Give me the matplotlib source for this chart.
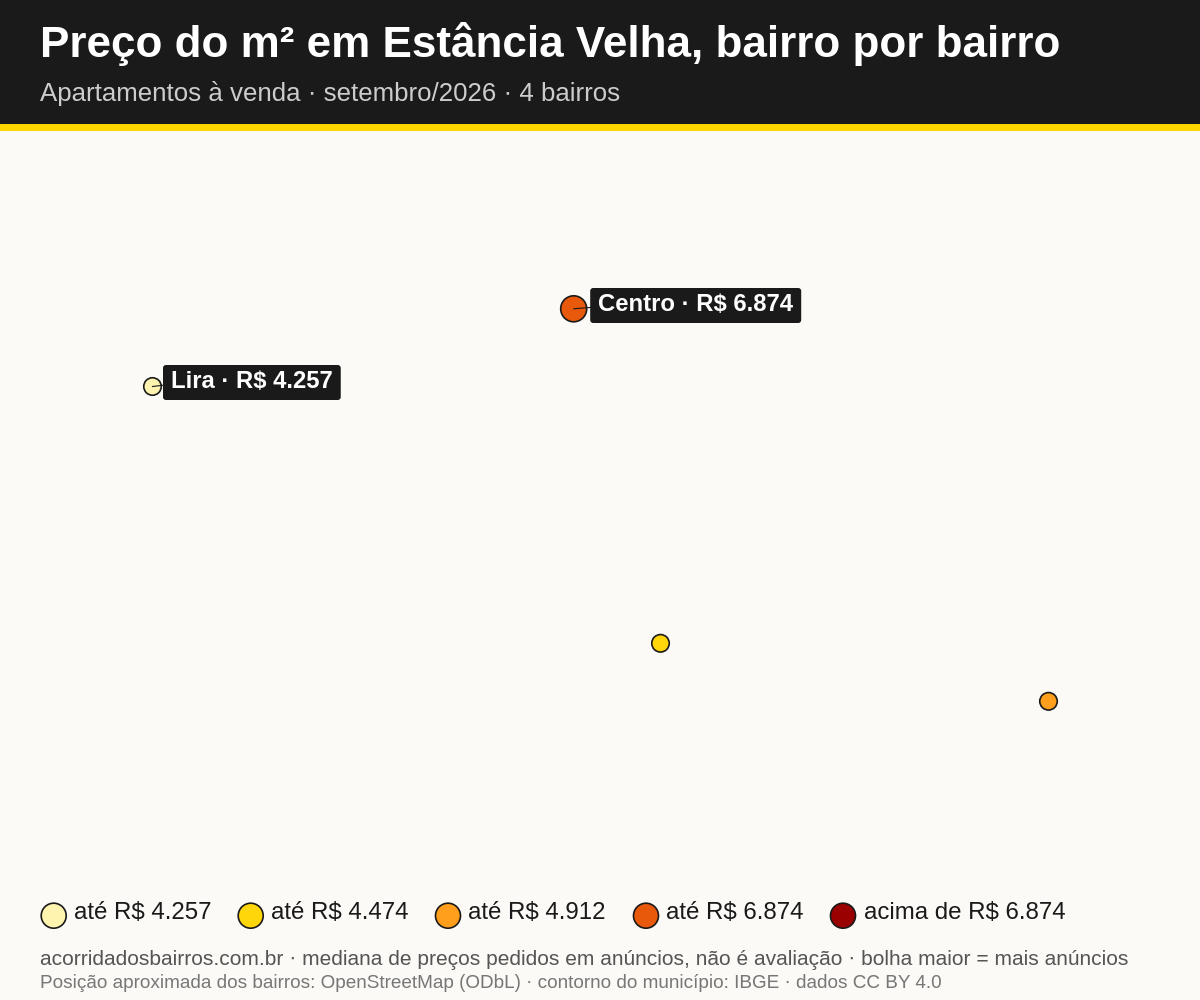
import matplotlib
matplotlib.use("Agg")
import matplotlib.pyplot as plt
from matplotlib.patches import Rectangle, FancyBboxPatch

plt.rcParams['font.family'] = 'Liberation Sans'
plt.rcParams['text.hinting'] = 'native'

# bairros, positions read in picture pixels
bairro_x = [152.5, 573.7, 660.5, 1048.5]
bairro_y = [386.5, 308.8, 643.3, 701.3]
bairro_d = [17.5, 26, 17.5, 17.5]
bairro_cor = ['#FFF3B0', '#E8590C', '#FFD60A', '#FF9F1C']
bairro_label = ['Lira · R$ 4.257', 'Centro · R$ 6.874', None, None]
label_dx = [10.5, 16.5, 0, 0]
label_dy = [-21.5, -20.8, 0, 0]

legend_x = [53.7, 250.7, 448, 646, 843]
legend_cor = ['#FFF3B0', '#FFD60A', '#FF9F1C', '#E8590C', '#9B0000']
legend_txt = ['até R$ 4.257', 'até R$ 4.474', 'até R$ 4.912', 'até R$ 6.874', 'acima de R$ 6.874']

TITLE = 'Preço do m² em Estância Velha, bairro por bairro'
SUB = 'Apartamentos à venda · setembro/2026 · 4 bairros'
FOOT1 = 'acorridadosbairros.com.br · mediana de preços pedidos em anúncios, não é avaliação · bolha maior = mais anúncios'
FOOT2 = 'Posição aproximada dos bairros: OpenStreetMap (ODbL) · contorno do município: IBGE · dados CC BY 4.0'

DARK = '#1A1A1A'
BG = '#FBFAF6'


def px(d):
    # pixel diameter to scatter area
    return (d * 0.72) ** 2


fig = plt.figure(figsize=(12, 10), dpi=100, facecolor=BG)
ax = fig.add_axes([0, 0, 1, 1])
ax.set_xlim(0, 1200)
ax.set_ylim(1000, 0)
ax.axis('off')

ax.add_patch(Rectangle((0, 0), 1200, 124, color=DARK, lw=0))
ax.add_patch(Rectangle((0, 124), 1200, 7, color='#FFD600', lw=0))
ax.text(40, 57, TITLE, color='white', fontsize=31.68, fontweight='bold', va='baseline')
ax.text(40, 101, SUB, color='#CCCCCC', fontsize=18.6, va='baseline')

ax.scatter(bairro_x, bairro_y, s=[px(d) for d in bairro_d], c=bairro_cor,
           edgecolors=DARK, linewidths=1.2, zorder=3)

renderer = fig.canvas.get_renderer()
for x, y, lab, dx, dy in zip(bairro_x, bairro_y, bairro_label, label_dx, label_dy):
    if lab is None:
        continue
    left, top = x + dx, y + dy
    t = ax.text(left + 8, top + 23, lab, color='white', fontsize=17.2, fontweight='bold',
                va='baseline', ha='left', zorder=6)
    w = t.get_window_extent(renderer).width
    ax.add_patch(FancyBboxPatch((left + 3, top + 3), w + 10, 29, boxstyle='round,pad=3,rounding_size=3',
                                fc=DARK, ec='none', zorder=5))
    ax.plot([x, left + 2], [y, y - 1.5], color=DARK, lw=0.8, zorder=4)

ax.scatter(legend_x, [915.7] * 5, s=px(25), c=legend_cor, edgecolors=DARK, linewidths=1.2, zorder=3)
for x, t in zip(legend_x, legend_txt):
    ax.text(x + 20.5, 919, t, color=DARK, fontsize=17.28, va='baseline')

ax.text(40, 965, FOOT1, color='#555555', fontsize=15.12, va='baseline')
ax.text(40, 988.5, FOOT2, color='#777777', fontsize=13.6, va='baseline')

fig.savefig('out.png', dpi=100, facecolor=BG)
